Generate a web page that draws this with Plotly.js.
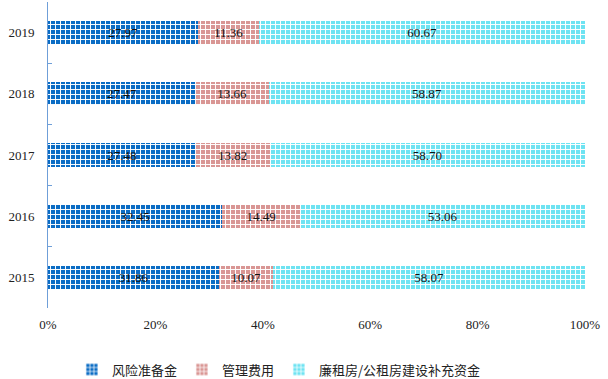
<!DOCTYPE html>
<html>
<head>
<meta charset="utf-8">
<script src="https://cdn.plot.ly/plotly-3.0.1.min.js"></script>
<style>html,body{margin:0;padding:0;background:#fff;}#chart{width:608px;height:379px;}</style>
</head>
<body>
<div id="chart"></div>
<script>
var years = ['2015', '2016', '2017', '2018', '2019'];
var riskReserve = [31.86, 32.45, 27.48, 27.47, 27.97];
var mgmtCost = [10.07, 14.49, 13.82, 13.66, 11.36];
var housingFund = [58.07, 53.06, 58.70, 58.87, 60.67];
var seriesNames = ['风险准备金', '管理费用', '廉租房/公租房建设补充资金'];
var xTickVals = [0, 20, 40, 60, 80, 100];
var xTickText = ['0%', '20%', '40%', '60%', '80%', '100%'];

var colors = ['#0a6cc4', '#d99694', '#6ee3f2'];
var values = [riskReserve, mgmtCost, housingFund];

var traces = values.map(function (v, i) {
  return {
    type: 'bar',
    orientation: 'h',
    name: seriesNames[i],
    y: years,
    x: v,
    text: v.map(function (d) { return d.toFixed(2); }),
    textposition: 'inside',
    insidetextanchor: 'middle',
    textfont: {family: 'Liberation Serif, DejaVu Serif, serif', size: 13, color: '#111'},
    marker: {
      color: colors[i],
      line: {width: 0},
      pattern: {shape: '+', fgcolor: '#ffffff', bgcolor: colors[i], size: 5, solidity: 0.35}
    },
    hoverinfo: 'skip'
  };
});

var layout = {
  width: 608,
  height: 379,
  barmode: 'stack',
  bargap: 0.62,
  margin: {l: 48, r: 23, t: 2, b: 71, autoexpand: false},
  paper_bgcolor: '#ffffff',
  plot_bgcolor: '#ffffff',
  showlegend: true,
  legend: {
    orientation: 'h',
    x: 0.43, xanchor: 'center',
    y: -0.152, yanchor: 'top',
    font: {family: 'Noto Sans CJK SC, sans-serif', size: 13, color: '#222'},
    itemwidth: 30,
    traceorder: 'normal'
  },
  uniformtext: {minsize: 13, mode: 'show'},
  xaxis: {
    range: [0, 100],
    tickvals: xTickVals,
    ticktext: xTickText,
    showgrid: false,
    zeroline: false,
    showline: false,
    ticks: '',
    ticklabelstandoff: 7,
    tickfont: {family: 'Liberation Serif, DejaVu Serif, serif', size: 13, color: '#222'},
    fixedrange: true
  },
  yaxis: {
    type: 'category',
    showgrid: false,
    zeroline: false,
    showline: true,
    linecolor: '#6f9fd8',
    linewidth: 1,
    ticks: 'inside',
    tickson: 'boundaries',
    ticklen: 4,
    tickcolor: '#6f9fd8',
    ticklabelstandoff: 10,
    tickfont: {family: 'Liberation Serif, DejaVu Serif, serif', size: 13, color: '#222'},
    fixedrange: true
  }
};

Plotly.newPlot('chart', traces, layout, {displayModeBar: false, staticPlot: true});
</script>
</body>
</html>
